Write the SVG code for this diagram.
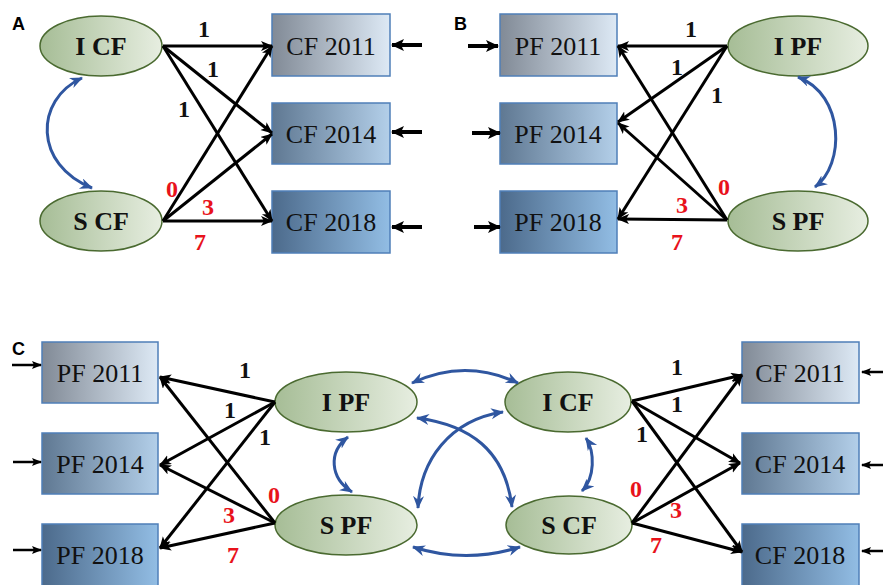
<svg xmlns="http://www.w3.org/2000/svg" width="883" height="585" viewBox="0 0 883 585">
  <defs>
    <linearGradient id="box1" x1="0" y1="0" x2="1" y2="0">
      <stop offset="0" stop-color="#818a96"/>
      <stop offset="1" stop-color="#dde9f5"/>
    </linearGradient>
    <linearGradient id="box2" x1="0" y1="0" x2="1" y2="0">
      <stop offset="0" stop-color="#5f7892"/>
      <stop offset="1" stop-color="#b3cfe9"/>
    </linearGradient>
    <linearGradient id="box3" x1="0" y1="0" x2="1" y2="0">
      <stop offset="0" stop-color="#4c6a8b"/>
      <stop offset="1" stop-color="#92bde4"/>
    </linearGradient>
    <linearGradient id="oval" x1="0" y1="0" x2="1" y2="0">
      <stop offset="0" stop-color="#a6bd96"/>
      <stop offset="1" stop-color="#e7eee1"/>
    </linearGradient>
    <marker id="tip" markerUnits="userSpaceOnUse" markerWidth="13" markerHeight="11" refX="11" refY="5" orient="auto">
      <path d="M0,0 L12,5 L0,10 L3,5 z" fill="#000"/>
    </marker>
    <marker id="tipIn" markerUnits="userSpaceOnUse" markerWidth="14" markerHeight="13" refX="12" refY="6" orient="auto">
      <path d="M0,0 L13,6 L0,12 L3,6 z" fill="#000"/>
    </marker>
    <marker id="tipSmall" markerUnits="userSpaceOnUse" markerWidth="11" markerHeight="9" refX="9" refY="4" orient="auto">
      <path d="M0,0 L10,4 L0,8 L2,4 z" fill="#000"/>
    </marker>
    <marker id="cov" markerUnits="userSpaceOnUse" markerWidth="14" markerHeight="12" refX="12" refY="5.5" orient="auto-start-reverse">
      <path d="M0,0 L13,5.5 L0,11 L4,5.5 z" fill="#2f56a0"/>
    </marker>
  </defs>
  <style>
    .box rect { stroke: #4f7fb8; stroke-width: 1.5; }
    .box text { font-family: "Liberation Serif", "Times New Roman", serif; font-size: 26px; fill: #111; text-anchor: middle; }
    .lv ellipse { fill: url(#oval); stroke: #4a6a30; stroke-width: 1.5; }
    .lv text { font-family: "Liberation Serif", "Times New Roman", serif; font-size: 26px; font-weight: bold; fill: #111; text-anchor: middle; }
    .path { fill: none; stroke: #000; stroke-width: 3; marker-end: url(#tip); }
    .input { fill: none; stroke: #000; stroke-width: 4; marker-end: url(#tipIn); }
    .input2 { fill: none; stroke: #000; stroke-width: 2.5; marker-end: url(#tipSmall); }
    .cov { fill: none; stroke: #2f56a0; stroke-width: 3; marker-start: url(#cov); marker-end: url(#cov); }
    .w { font-family: "Liberation Serif", "Times New Roman", serif; font-size: 24px; font-weight: bold; text-anchor: middle; fill: #111; }
    .r { fill: #e8121b; }
    .panel { font-family: "Liberation Sans", Arial, sans-serif; font-size: 18px; font-weight: bold; fill: #000; }
  </style>

  <rect width="883" height="585" fill="#fff"/>

  <!-- panel letters -->
  <text class="panel" x="12" y="30">A</text>
  <text class="panel" x="454" y="30">B</text>
  <text class="panel" x="12" y="355">C</text>

  <!-- ===== Panel A: CF growth model ===== -->
  <g id="a-cf2011" class="box"><rect x="272" y="14" width="118" height="62" fill="url(#box1)"/><text x="331" y="55">CF 2011</text></g>
  <g id="a-cf2014" class="box"><rect x="272" y="103" width="118" height="61" fill="url(#box2)"/><text x="331" y="143">CF 2014</text></g>
  <g id="a-cf2018" class="box"><rect x="272" y="191" width="118" height="62" fill="url(#box3)"/><text x="331" y="231">CF 2018</text></g>
  <g id="a-icf" class="lv"><ellipse cx="101" cy="46" rx="61" ry="30"/><text x="101" y="55">I CF</text></g>
  <g id="a-scf" class="lv"><ellipse cx="101" cy="221" rx="61" ry="30"/><text x="101" y="230">S CF</text></g>

  <!-- ===== Panel B: PF growth model ===== -->
  <g id="b-pf2011" class="box"><rect x="500" y="14" width="117" height="62" fill="url(#box1)"/><text x="558" y="55">PF 2011</text></g>
  <g id="b-pf2014" class="box"><rect x="500" y="103" width="117" height="61" fill="url(#box2)"/><text x="558" y="143">PF 2014</text></g>
  <g id="b-pf2018" class="box"><rect x="500" y="191" width="117" height="62" fill="url(#box3)"/><text x="558" y="231">PF 2018</text></g>
  <g id="b-ipf" class="lv"><ellipse cx="798" cy="46" rx="70" ry="30"/><text x="798" y="55">I PF</text></g>
  <g id="b-spf" class="lv"><ellipse cx="798" cy="221" rx="70" ry="30"/><text x="798" y="230">S PF</text></g>

  <!-- ===== Panel C: parallel process model ===== -->
  <g id="c-pf2011" class="box"><rect x="42" y="342" width="116" height="61" fill="url(#box1)"/><text x="100" y="382">PF 2011</text></g>
  <g id="c-pf2014" class="box"><rect x="42" y="433" width="116" height="61" fill="url(#box2)"/><text x="100" y="473">PF 2014</text></g>
  <g id="c-pf2018" class="box"><rect x="42" y="524" width="116" height="66" fill="url(#box3)"/><text x="100" y="564">PF 2018</text></g>
  <g id="c-cf2011" class="box"><rect x="742" y="342" width="117" height="61" fill="url(#box1)"/><text x="800" y="382">CF 2011</text></g>
  <g id="c-cf2014" class="box"><rect x="742" y="433" width="117" height="61" fill="url(#box2)"/><text x="800" y="473">CF 2014</text></g>
  <g id="c-cf2018" class="box"><rect x="742" y="524" width="117" height="66" fill="url(#box3)"/><text x="800" y="564">CF 2018</text></g>
  <g id="c-ipf" class="lv"><ellipse cx="346" cy="402" rx="71" ry="30"/><text x="346" y="411">I PF</text></g>
  <g id="c-spf" class="lv"><ellipse cx="346" cy="525" rx="71" ry="30"/><text x="346" y="534">S PF</text></g>
  <g id="c-icf" class="lv"><ellipse cx="568" cy="402" rx="63" ry="30"/><text x="568" y="411">I CF</text></g>
  <g id="c-scf" class="lv"><ellipse cx="569" cy="525" rx="63" ry="29"/><text x="569" y="534">S CF</text></g>

  <!-- connectors -->
  <g id="connectors">
    <!-- A: loadings -->
    <path class="path" d="M163,46 L272,46"/>
    <path class="path" d="M163,46 L272,133"/>
    <path class="path" d="M163,46 L272,221"/>
    <path class="path" d="M163,221 L272,46"/>
    <path class="path" d="M163,221 L272,134"/>
    <path class="path" d="M163,221 L272,221"/>
    <!-- A: residuals -->
    <path class="input" d="M422,45 L392,45"/>
    <path class="input" d="M422,132 L392,132"/>
    <path class="input" d="M422,227 L392,227"/>
    <!-- A: covariance -->
    <path class="cov" d="M82,78 C34,100 34,165 92,188"/>

    <!-- B: loadings -->
    <path class="path" d="M727,46 L618,46"/>
    <path class="path" d="M727,46 L618,122"/>
    <path class="path" d="M727,46 L618,219"/>
    <path class="path" d="M727,220 L618,46"/>
    <path class="path" d="M727,220 L618,123"/>
    <path class="path" d="M727,220 L618,219"/>
    <!-- B: residuals -->
    <path class="input" d="M468,46 L498,46"/>
    <path class="input" d="M472,133 L500,133"/>
    <path class="input" d="M474,227 L500,227"/>
    <!-- B: covariance -->
    <path class="cov" d="M798,77 C845,95 845,165 815,187"/>

    <!-- C: PF loadings -->
    <path class="path" d="M275,402 L160,377"/>
    <path class="path" d="M275,402 L160,465"/>
    <path class="path" d="M275,402 L160,548"/>
    <path class="path" d="M275,523 L160,377"/>
    <path class="path" d="M275,523 L160,465"/>
    <path class="path" d="M275,523 L160,548"/>
    <!-- C: CF loadings -->
    <path class="path" d="M632,401 L742,375"/>
    <path class="path" d="M632,401 L740,463"/>
    <path class="path" d="M632,401 L742,552"/>
    <path class="path" d="M632,523 L742,375"/>
    <path class="path" d="M632,523 L740,463"/>
    <path class="path" d="M632,523 L742,552"/>
    <!-- C: residuals -->
    <path class="input2" d="M12,365 L41,365"/>
    <path class="input2" d="M13,462 L41,462"/>
    <path class="input2" d="M13,550 L41,550"/>
    <path class="input2" d="M885,372 L862,372"/>
    <path class="input2" d="M885,465 L862,465"/>
    <path class="input2" d="M885,551 L862,551"/>
    <!-- C: covariances -->
    <path class="cov" d="M412,383 Q465,358 518,383"/>
    <path class="cov" d="M413,547 Q466,564 520,547"/>
    <path class="cov" d="M348,437 C328,452 330,478 352,492"/>
    <path class="cov" d="M586,438 C595,452 595,478 582,491"/>
    <path class="cov" d="M417,418 C470,425 505,450 512,507"/>
    <path class="cov" d="M503,412 C450,420 420,460 418,508"/>
  </g>

  <!-- path coefficients -->
  <g id="coefficients">
    <text class="w" x="204" y="37">1</text>
    <text class="w" x="213" y="77">1</text>
    <text class="w" x="184" y="117">1</text>
    <text class="w r" x="172" y="197">0</text>
    <text class="w r" x="208" y="215">3</text>
    <text class="w r" x="200" y="250">7</text>

    <text class="w" x="691" y="37">1</text>
    <text class="w" x="677" y="75">1</text>
    <text class="w" x="717" y="103">1</text>
    <text class="w r" x="724" y="195">0</text>
    <text class="w r" x="682" y="213">3</text>
    <text class="w r" x="677" y="250">7</text>

    <text class="w" x="245" y="378">1</text>
    <text class="w" x="230" y="418">1</text>
    <text class="w" x="265" y="445">1</text>
    <text class="w r" x="274" y="503">0</text>
    <text class="w r" x="229" y="523">3</text>
    <text class="w r" x="233" y="563">7</text>

    <text class="w" x="677" y="375">1</text>
    <text class="w" x="677" y="412">1</text>
    <text class="w" x="642" y="442">1</text>
    <text class="w r" x="636" y="497">0</text>
    <text class="w r" x="676" y="518">3</text>
    <text class="w r" x="656" y="553">7</text>
  </g>
</svg>
